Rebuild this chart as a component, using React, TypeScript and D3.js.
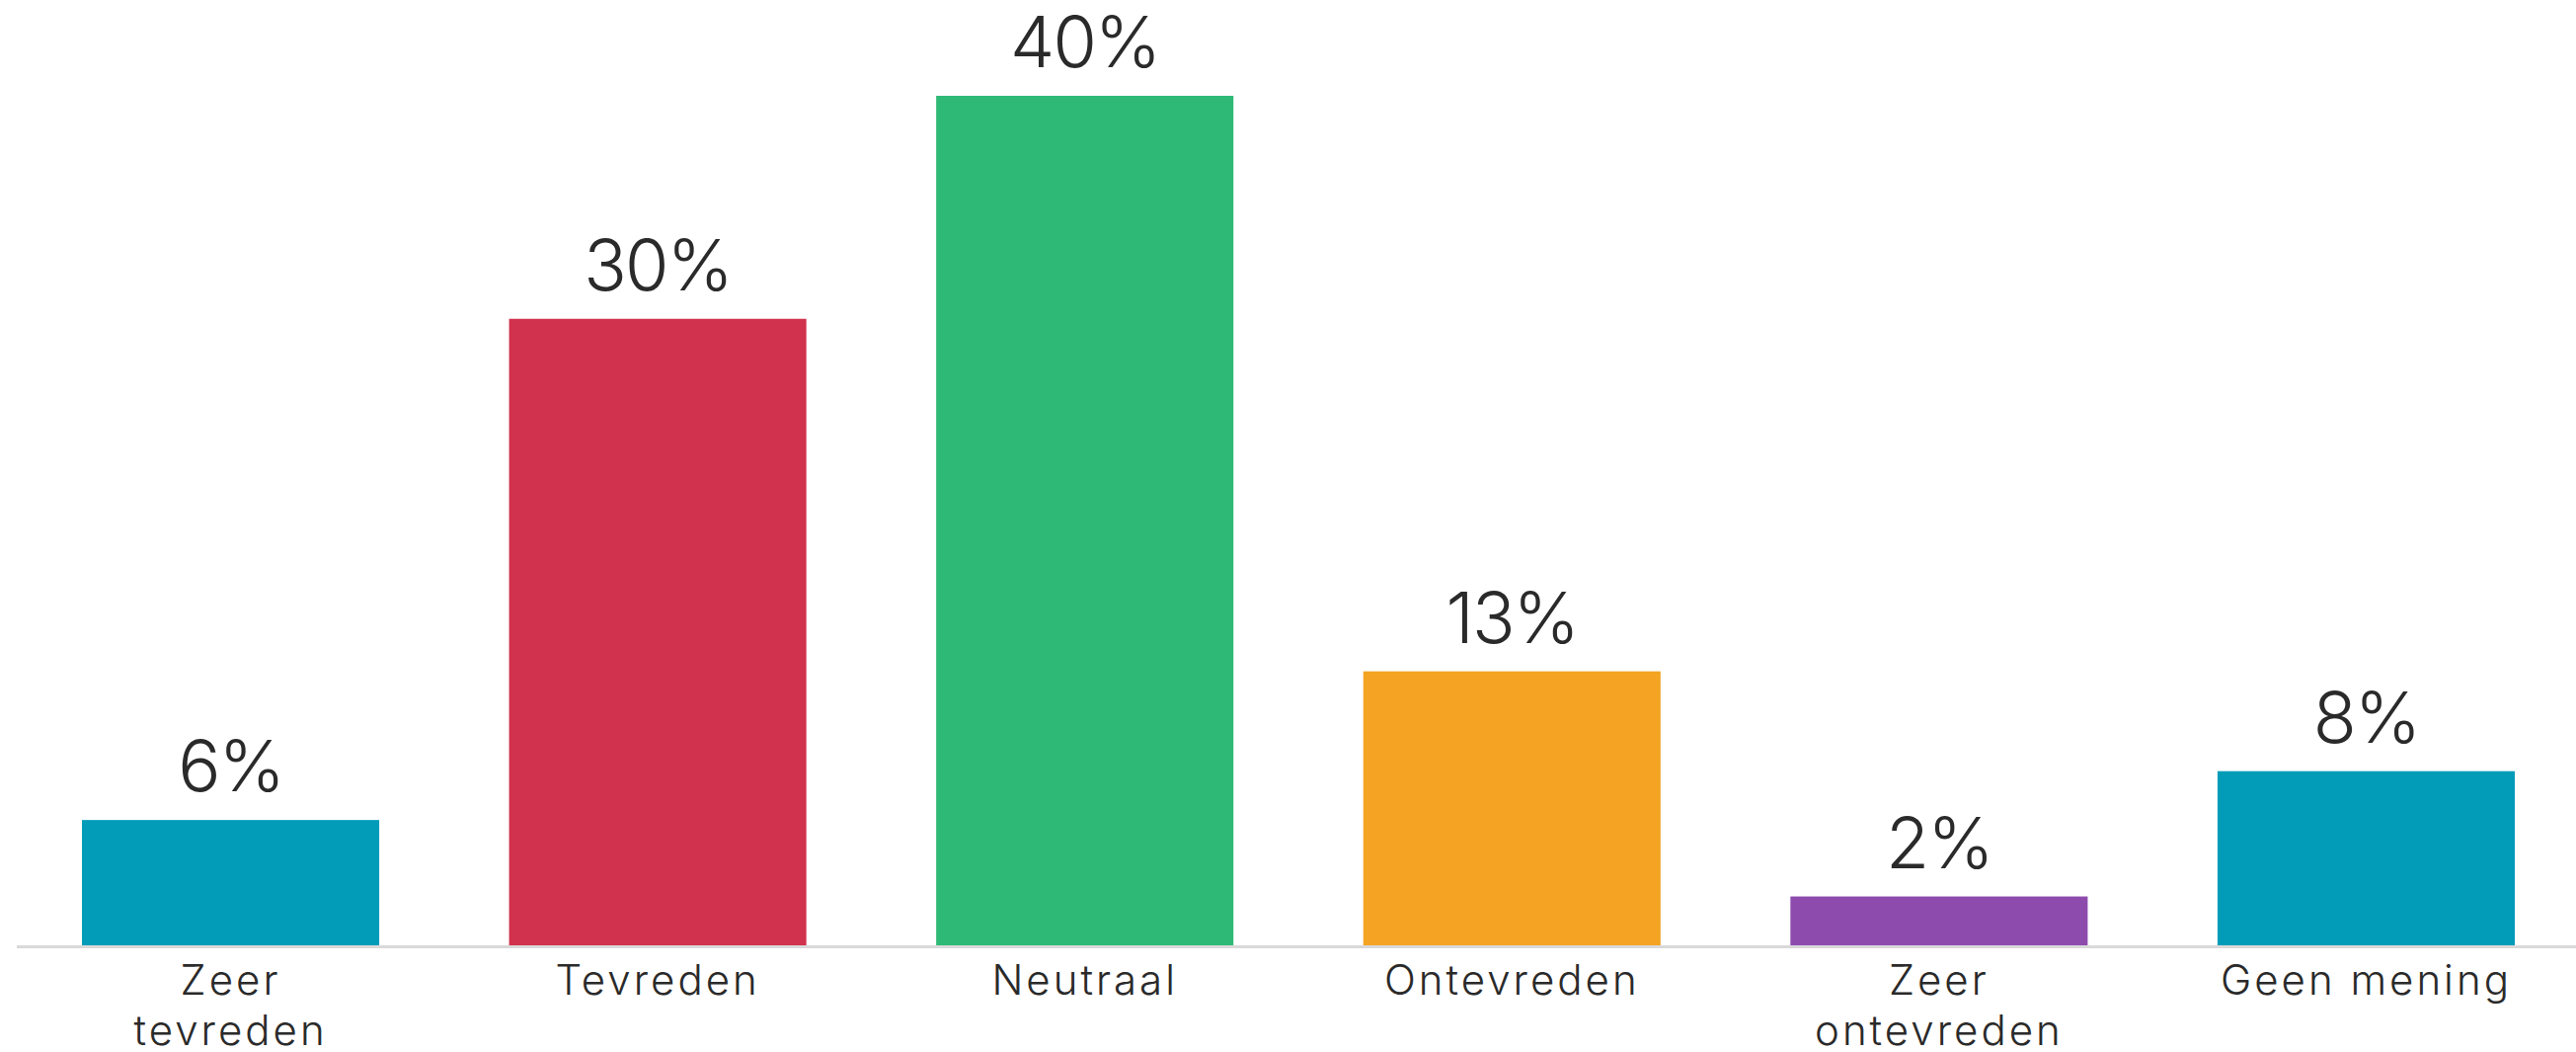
import React from 'react';
import * as d3 from 'd3';

// survey answers
const categories = ['Zeer tevreden', 'Tevreden', 'Neutraal', 'Ontevreden', 'Zeer ontevreden', 'Geen mening'];
const labelLines = [['Zeer', 'tevreden'], ['Tevreden'], ['Neutraal'], ['Ontevreden'], ['Zeer', 'ontevreden'], ['Geen mening']];
const values = [5.9, 29.5, 40, 12.9, 2.3, 8.2];
const colors = ['#029cb9', '#d1324d', '#2eb977', '#f4a322', '#8e4bae', '#029cb9'];

const width = 2609;
const height = 1065;
const margin = { top: 97, bottom: 108, left: 83, right: 0 };

export default function App() {
    let baseline = height - margin.bottom;
    let x = d3.scaleBand()
        .domain(categories)
        .range([margin.left, margin.left + 6 * 432.6 - 131.6])
        .paddingInner(0.304)
        .paddingOuter(0);
    let y = d3.scaleLinear()
        .domain([0, 40])
        .range([baseline, margin.top]);
    let fmt = (v: number) => Math.round(v) + '%';
    let font = 'Inter, "Open Sans", sans-serif';

    return (
        <div style={{ position: 'absolute', left: 0, top: 0 }}>
            <svg width={width} height={height} style={{ display: 'block', background: '#fff' }}>
                <line x1={17} x2={width} y1={baseline + 1.5} y2={baseline + 1.5} stroke="#d9d9d9" strokeWidth={3} />
                {categories.map((c, i) => (
                    <g key={c}>
                        <rect
                            x={x(c)}
                            y={y(values[i])}
                            width={x.bandwidth()}
                            height={baseline - y(values[i])}
                            fill={colors[i]}
                        />
                        <text
                            x={(x(c) as number) + x.bandwidth() / 2}
                            y={y(values[i]) - 29}
                            textAnchor="middle"
                            fontFamily={font}
                            fontSize={72}
                            fontWeight={300}
                            letterSpacing={-2}
                            fill="#2a2a2a"
                        >
                            {fmt(values[i])}
                        </text>
                        {labelLines[i].map((line, j) => (
                            <text
                                key={j}
                                x={(x(c) as number) + x.bandwidth() / 2}
                                y={baseline + 50 + j * 51}
                                textAnchor="middle"
                                fontFamily={font}
                                fontSize={42}
                                fontWeight={300}
                                letterSpacing={3}
                                fill="#2a2a2a"
                            >
                                {line}
                            </text>
                        ))}
                    </g>
                ))}
            </svg>
        </div>
    );
}
